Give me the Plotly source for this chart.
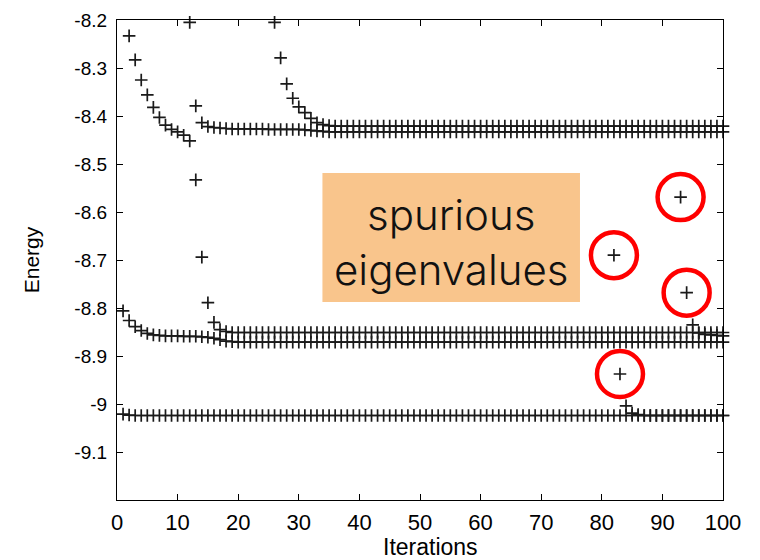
import plotly.graph_objects as go

# ---- data: Ritz values per iteration --------------------------------------
iters = list(range(1, 101))

# lowest eigenvalue (iterations 1-100)
lowest = [-9.021, -9.023] + [-9.024] * 98

# second track (iterations 1-100)
second = ([-8.806, -8.826, -8.839, -8.847, -8.853, -8.856, -8.857, -8.858,
           -8.858, -8.858, -8.859, -8.859, -8.859, -8.860, -8.861, -8.863,
           -8.866, -8.869, -8.870] + [-8.871] * 81)

# third track (iterations 2-100)
third_x = list(range(2, 101))
third = ([-8.233, -8.283, -8.325, -8.356, -8.382, -8.403, -8.419, -8.428,
          -8.433, -8.440, -8.452, -8.533, -8.694, -8.789, -8.830, -8.845,
          -8.849] + [-8.851] * 82)

# fourth track (iterations 12-100)
fourth_x = list(range(12, 101))
fourth = ([-8.205, -8.379, -8.414, -8.422, -8.424, -8.425, -8.426]
          + [-8.427] * 6 + [-8.428] * 6
          + [-8.429, -8.430, -8.431, -8.432] + [-8.433] * 66)

# fifth track (iterations 26-100)
fifth_x = list(range(26, 101))
fifth = ([-8.205, -8.279, -8.333, -8.363, -8.381, -8.393, -8.405, -8.414,
          -8.418, -8.420] + [-8.421] * 65)

# late tracks that start from spurious values
late_a_x = list(range(82, 101))
late_a = [-8.690, -8.9375, -9.004, -9.019, -9.022] + [-9.024] * 14
late_b_x = list(range(93, 101))
late_b = [-8.569, -8.768, -8.835, -8.852, -8.855, -8.856, -8.857, -8.858]

# the spurious values that get highlighted
spur_x = [late_a_x[0], late_a_x[1], late_b_x[0], late_b_x[1]]
spur_y = [late_a[0], late_a[1], late_b[0], late_b[1]]

y_ticks = [-9.1, -9.0, -8.9, -8.8, -8.7, -8.6, -8.5, -8.4, -8.3, -8.2]
y_ticktext = ["-9.1", "-9", "-8.9", "-8.8", "-8.7", "-8.6", "-8.5", "-8.4",
              "-8.3", "-8.2"]
x_ticks = [0, 10, 20, 30, 40, 50, 60, 70, 80, 90, 100]

# ---- figure ---------------------------------------------------------------
TICK_FONT = "Liberation Sans, Arial, sans-serif"
plus = dict(symbol="cross-thin", size=9, color="#1a1a1a",
            line=dict(width=1.7, color="#1a1a1a"))

fig = go.Figure()
for xs, ys in [(iters, lowest), (iters, second), (third_x, third),
               (fourth_x, fourth), (fifth_x, fifth),
               (late_a_x, late_a), (late_b_x, late_b)]:
    fig.add_trace(go.Scatter(x=xs, y=ys, mode="markers", marker=plus,
                             cliponaxis=False, hoverinfo="x+y"))

# red rings around the spurious values
fig.add_trace(go.Scatter(
    x=spur_x, y=spur_y, mode="markers", cliponaxis=False,
    marker=dict(symbol="circle-open", size=46, color="#ff0000",
                line=dict(width=4.5, color="#ff0000")),
    hoverinfo="skip"))

# label box
fig.add_shape(type="rect", xref="x", yref="y", x0=33.9, x1=76.4,
              y0=-8.519, y1=-8.7875, fillcolor="#f9c58c",
              line=dict(width=0), layer="below")
fig.add_annotation(x=55.15, y=-8.663, xref="x", yref="y",
                   text="spurious<br>eigenvalues", showarrow=False,
                   font=dict(family="Inter, Liberation Sans, sans-serif",
                             size=42, color="#111111", weight=300),
                   xanchor="center", yanchor="middle")

# x-axis caption, sitting a little right of the axis centre
fig.add_annotation(x=51.7, y=0, xref="x", yref="paper", yshift=-47,
                   text="Iterations", showarrow=False,
                   xanchor="center", yanchor="middle",
                   font=dict(family=TICK_FONT, size=23, color="black"))

fig.update_xaxes(
    range=[0, 100], tickvals=x_ticks, ticks="inside", ticklen=6,
    tickwidth=1.2, tickcolor="black", showline=True, linecolor="black",
    linewidth=1.2, mirror="ticks", showgrid=False, zeroline=False,
    automargin=False, ticklabelstandoff=2,
    tickfont=dict(family=TICK_FONT, size=22, color="black"))
fig.update_yaxes(
    range=[-9.2, -8.2], tickvals=y_ticks, ticktext=y_ticktext,
    ticks="inside", ticklen=6, tickwidth=1.2, tickcolor="black",
    showline=True, linecolor="black", linewidth=1.2, mirror="ticks",
    showgrid=False, zeroline=False, automargin=False, ticklabelstandoff=5,
    tickfont=dict(family=TICK_FONT, size=19, color="black"),
    title=dict(text="Energy", standoff=28,
               font=dict(family=TICK_FONT, size=21, color="black")))

fig.update_layout(
    width=760, height=560, showlegend=False,
    margin=dict(l=116.5, r=37, t=20, b=60),
    plot_bgcolor="white", paper_bgcolor="white")

fig.write_html("out.html")
